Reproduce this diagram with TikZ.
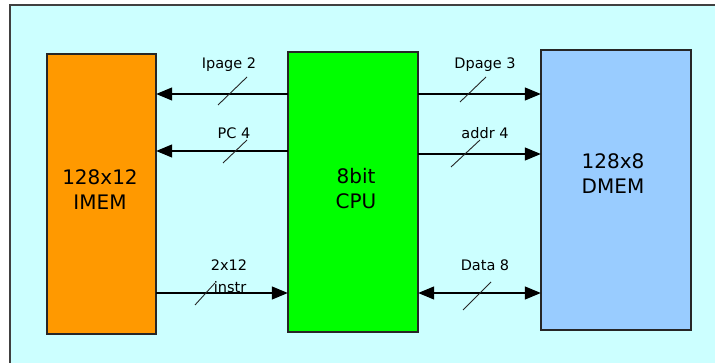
\documentclass[tikz,border=0pt]{standalone}
\usepackage{fontspec}
\setmainfont{DejaVu Sans}
\usetikzlibrary{arrows.meta}
\definecolor{bgc}{HTML}{CCFFFF}
\definecolor{imemc}{HTML}{FF9900}
\definecolor{cpuc}{HTML}{00FF00}
\definecolor{dmemc}{HTML}{99CCFF}
\begin{document}
\begin{tikzpicture}[x=1pt,y=-1pt,
  box/.style={draw=black!85,line width=1.8pt,inner sep=0pt},
  boxtext/.style={font=\fontsize{20}{25}\selectfont,inner sep=0pt,align=center},
  lbl/.style={font=\fontsize{14.5}{16}\selectfont,inner sep=0pt},
  arr/.style={line width=1.3pt,-{Triangle[length=16pt,width=13pt]}},
  darr/.style={line width=1.3pt,{Triangle[length=16pt,width=13pt]}-{Triangle[length=16pt,width=13pt]}},
  slash/.style={line width=0.9pt,draw=black!85}]
\useasboundingbox (0,0) rectangle (715,363);
\path[fill=bgc,draw=black!75,line width=1.5pt] (10,5) rectangle (740,390);
% boxes
\path[box,fill=imemc] (47,54) rectangle (156,334);
\node[inner sep=0pt,minimum width=109pt,minimum height=280pt] (imem) at (101.5,194) {};
\path[box,fill=cpuc] (288,52) rectangle (418,332);
\node[inner sep=0pt,minimum width=130pt,minimum height=280pt] (cpu) at (353,192) {};
\path[box,fill=dmemc] (541,50) rectangle (691,330);
\node[inner sep=0pt,minimum width=150pt,minimum height=280pt] (dmem) at (616,190) {};
% box texts
\node[boxtext] (t1) at (100,190) {128x12\\IMEM};
\node[boxtext] (t2) at (356,189) {8bit\\CPU};
\node[boxtext] (t3) at (613,174) {128x8\\DMEM};
% connectors
\coordinate (y1) at (0,94);
\coordinate (y2) at (0,151);
\coordinate (y3) at (0,154);
\coordinate (y4) at (0,293);
\draw[arr] (cpu.west |- y1) -- (imem.east |- y1);
\draw[arr] (cpu.west |- y2) -- (imem.east |- y2);
\draw[arr] (cpu.east |- y1) -- (dmem.west |- y1);
\draw[arr] (cpu.east |- y3) -- (dmem.west |- y3);
\draw[arr] (imem.east |- y4) -- (cpu.west |- y4);
\draw[darr] (cpu.east |- y4) -- (dmem.west |- y4);
% slashes
\draw[slash] (218,105) -- (247,77);
\draw[slash] (223,163) -- (247,140);
\draw[slash] (460,102) -- (486,77);
\draw[slash] (451,167) -- (480,140);
\draw[slash] (195,305) -- (215,283);
\draw[slash] (463,310) -- (491,282);
% labels
\node[lbl] (l1) at (229,65) {Ipage 2};
\node[lbl] (l2) at (234,133) {PC 4};
\node[lbl] (l3) at (485,65) {Dpage 3};
\node[lbl] (l4) at (485,133) {addr 4};
\node[lbl] (l5) at (229,265) {2x12};
\node[lbl] (l6) at (230,287) {instr};
\node[lbl] (l7) at (485,265) {Data 8};
\end{tikzpicture}
\end{document}
